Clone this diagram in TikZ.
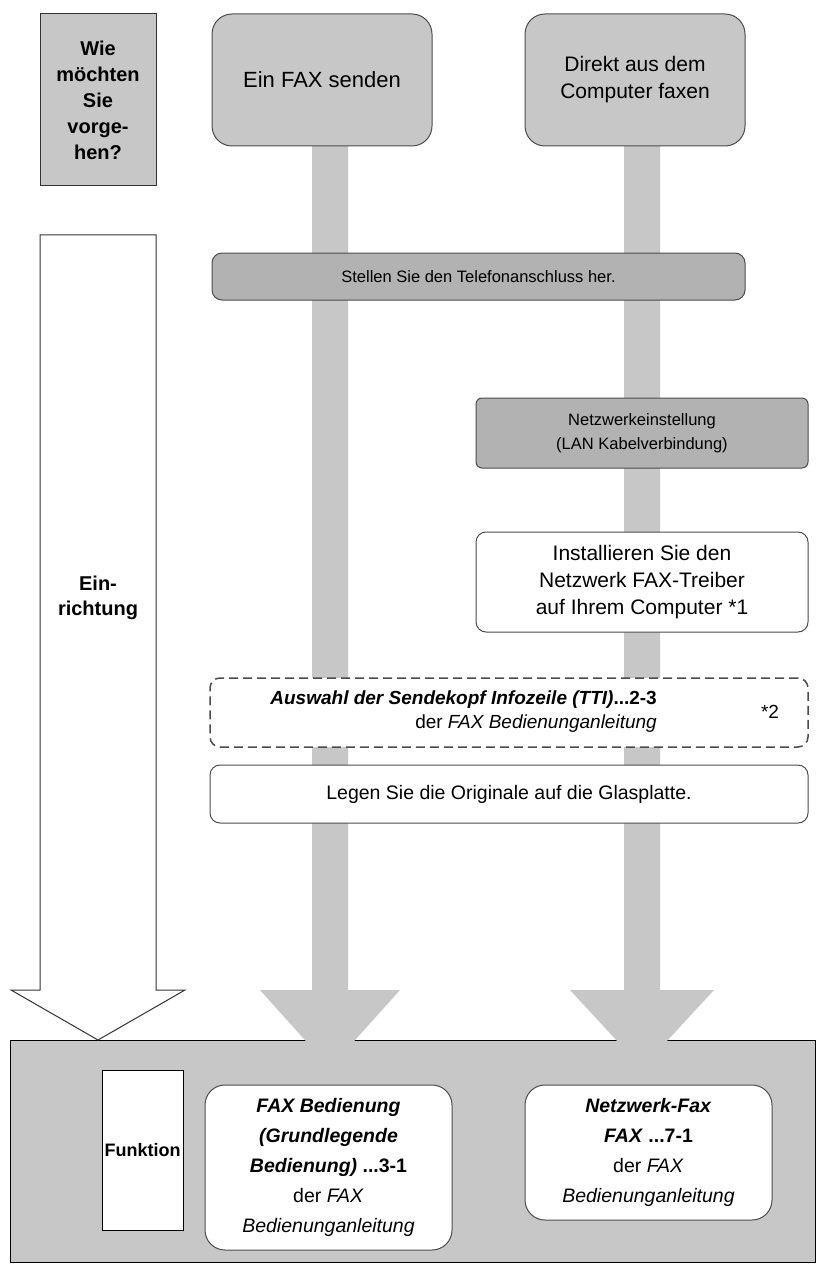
\documentclass[tikz,border=0pt]{standalone}
\usepackage{fontspec}
\setmainfont{Liberation Sans}
\begin{document}
\begin{tikzpicture}[x=1pt,y=-1pt,
  gbox/.style={draw=black!70,fill=black!22,rounded corners=10pt,line width=1pt,align=center,inner sep=0pt},
  wbox/.style={draw=black!70,fill=white,rounded corners=10pt,line width=1pt,align=center,inner sep=0pt},
  arr/.style={fill=black!22,draw=none}]
\useasboundingbox (0,0) rectangle (826,1273);
% bottom panel
\node[draw=black,fill=black!22,line width=1pt,minimum width=805pt,minimum height=222pt,inner sep=0pt] (panel) at (412.5,1151) {};
% gray arrows
\fill[arr] (312,146) -- (348,146) -- (348,990) -- (400,990) -- (330,1068) -- (260,990) -- (312,990) -- cycle;
\fill[arr] (624,146) -- (660,146) -- (660,990) -- (714,990) -- (642,1068) -- (570,990) -- (624,990) -- cycle;
% hollow arrow
\draw[fill=white,draw=black!80,line width=1pt] (40,235) -- (156,235) -- (156,990) -- (185,990) -- (98,1040) -- (11,990) -- (40,990) -- cycle;
\node[font=\fontsize{20}{25}\selectfont\bfseries,align=center] (einr) at (98,598) {Ein-\\richtung};
% top
\node[draw=black!80,fill=black!22,line width=1pt,minimum width=116pt,minimum height=172pt,inner sep=0pt,align=center,font=\fontsize{20}{26}\selectfont\bfseries] (wie) at (98,100) {Wie\\möchten\\Sie\\vorge-\\hen?};
\node[gbox,rounded corners=20pt,minimum width=220pt,minimum height=132pt,font=\fontsize{22}{28}\selectfont] (fax) at (322,80) {Ein FAX senden};
\node[gbox,rounded corners=20pt,minimum width=220pt,minimum height=132pt,font=\fontsize{21}{27}\selectfont] (dir) at (635,80) {Direkt aus dem\\Computer faxen};
% middle boxes
\node[gbox,fill=black!30,minimum width=533pt,minimum height=47pt,font=\fontsize{16.5}{20}\selectfont] (tel) at (478.5,276.5) {Stellen Sie den Telefonanschluss her.};
\node[gbox,fill=black!30,rounded corners=6pt,minimum width=332pt,minimum height=70pt,font=\fontsize{16.5}{24}\selectfont] (lan) at (642,433) {Netzwerkeinstellung\\(LAN Kabelverbindung)};
\node[wbox,minimum width=332pt,minimum height=100pt,font=\fontsize{21}{27}\selectfont] (inst) at (642,582) {Installieren Sie den\\Netzwerk FAX-Treiber\\auf Ihrem Computer *1};
\node[wbox,dash pattern=on 9pt off 5pt,line width=1.5pt,minimum width=598pt,minimum height=69pt] (tti) at (509,712.5) {};
\node[anchor=east,align=right,inner sep=0pt,font=\fontsize{19}{24}\selectfont] (ttit) at (657,712) {\textbf{\itshape Auswahl der Sendekopf Infozeile (TTI)}\textbf{...2-3}\\der \textit{FAX Bedienunganleitung}};
\node[font=\fontsize{19}{22}\selectfont] (s2) at (770,712) {*2};
\node[wbox,minimum width=598pt,minimum height=58pt,font=\fontsize{19.5}{24}\selectfont] (leg) at (509,794) {Legen Sie die Originale auf die Glasplatte.};
% bottom
\node[draw=black,fill=white,line width=1pt,minimum width=81pt,minimum height=160pt,inner sep=0pt,font=\fontsize{18}{22}\selectfont\bfseries] (funk) at (142.5,1150) {Funktion};
\node[wbox,rounded corners=20pt,minimum width=247pt,minimum height=165pt,font=\fontsize{19.5}{30}\selectfont] (fb) at (328.5,1167.5) {\textbf{\itshape FAX Bedienung}\\\textbf{\itshape (Grundlegende}\\\textbf{\itshape Bedienung)} \textbf{...3-1}\\der \textit{FAX}\\\textit{Bedienunganleitung}};
\node[wbox,rounded corners=20pt,minimum width=247pt,minimum height=135pt,font=\fontsize{19.5}{30}\selectfont] (nf) at (648.5,1152.5) {\textbf{\itshape Netzwerk-Fax}\\\textbf{\itshape FAX} \textbf{...7-1}\\der \textit{FAX}\\\textit{Bedienunganleitung}};
\end{tikzpicture}
\end{document}
